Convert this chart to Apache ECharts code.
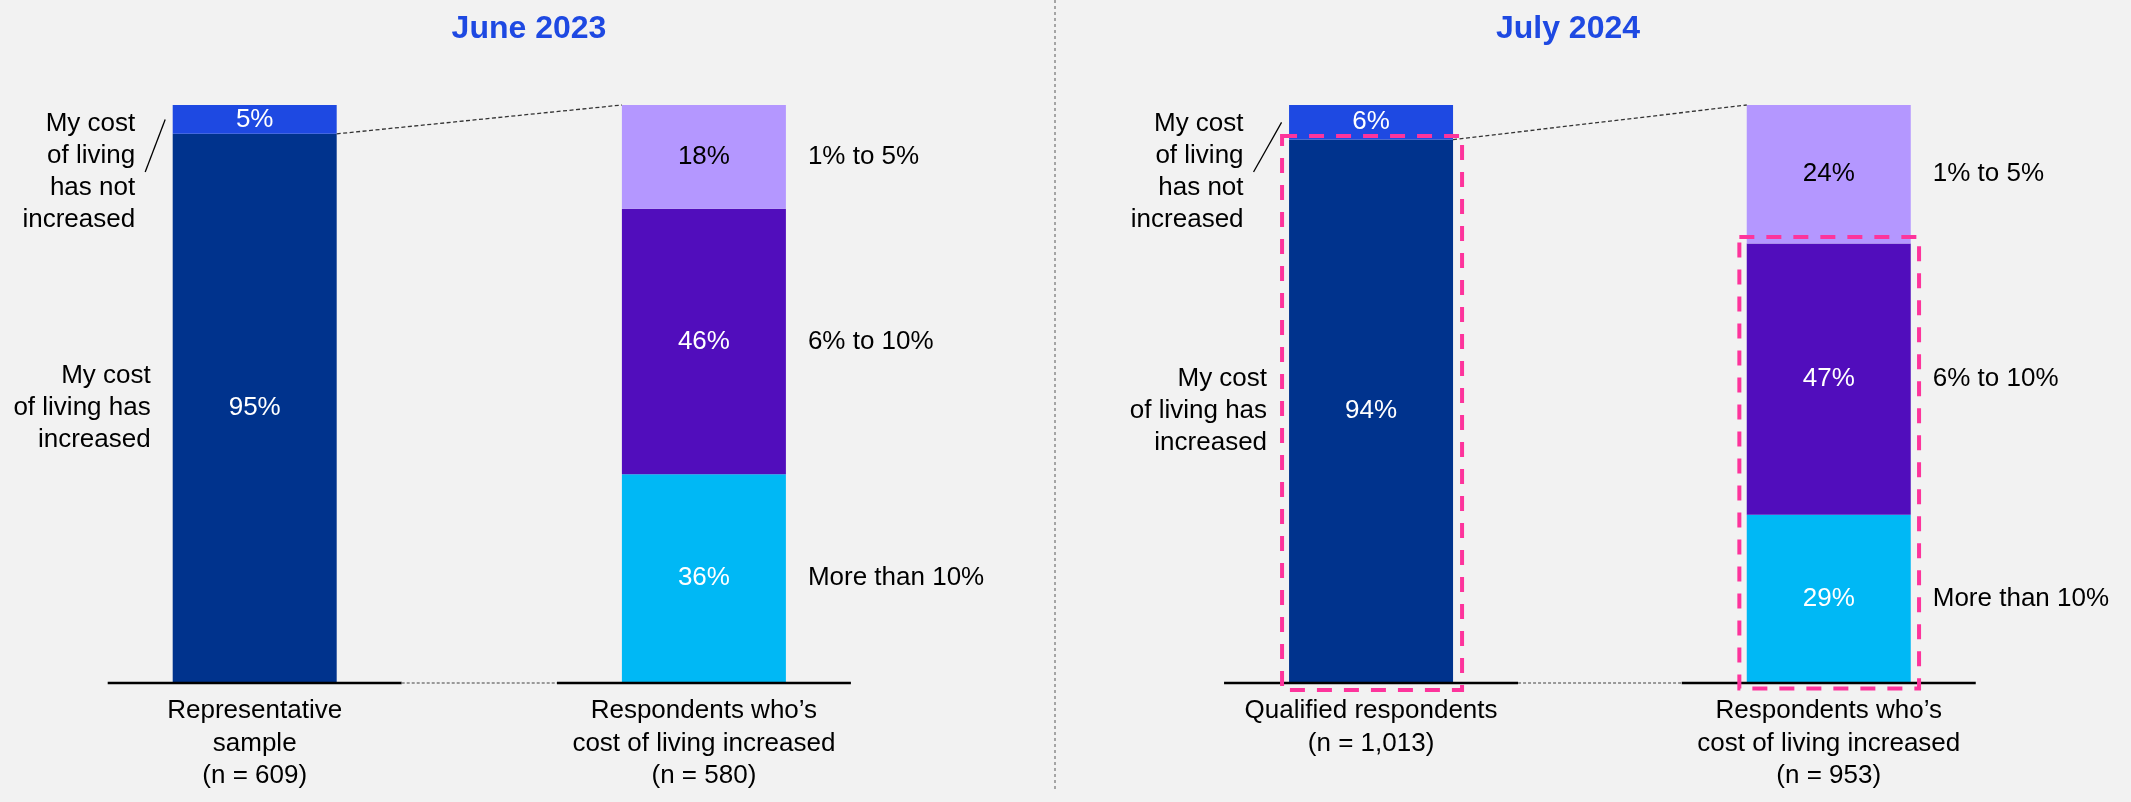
<!DOCTYPE html>
<html>
<head>
<meta charset="utf-8">
<script src="https://cdn.jsdelivr.net/npm/echarts@6/dist/echarts.min.js"></script>
<style>
  html, body { margin: 0; padding: 0; background: #f2f2f2; }
  #chart { width: 2131px; height: 802px; }
</style>
</head>
<body>
<div id="chart"></div>
<script>
// ---- data ----
const panelTitles = ['June 2023', 'July 2024'];

const juneCategories = ['Representative\nsample\n(n = 609)', 'Respondents who\u2019s\ncost of living increased\n(n = 580)'];
const julyCategories = ['Qualified respondents\n(n = 1,013)', 'Respondents who\u2019s\ncost of living increased\n(n = 953)'];

// share of everyone: [cost of living increased, not increased]
const juneCostChange = [95, 5];
const julyCostChange = [94, 6];

// size of the increase, bottom to top: [more than 10%, 6% to 10%, 1% to 5%]
const juneIncreaseSize = [36, 46, 18];
const julyIncreaseSize = [29, 47, 24];

const costChangeLabels = ['My cost\nof living has\nincreased', 'My cost\nof living\nhas not\nincreased'];
const increaseSizeLabels = ['More than 10%', '6% to 10%', '1% to 5%'];

// ---- style ----
const FONT = '"Liberation Sans", Arial, Helvetica, sans-serif';
const BAR_W = 164;
const COLORS = {
  increased: '#00338D',
  notIncreased: '#1E49E2',
  more10: '#00B8F5',
  mid: '#510DBC',
  low: '#B497FF',
  title: '#1E49E2',
  highlight: '#FD349C'
};

const panels = [
  { title: panelTitles[0], titleX: 529, categories: juneCategories, costChange: juneCostChange,
    increaseSize: juneIncreaseSize, grid: { left: 30.1, width: 898.4 }, leaderDx: 20, highlight: false },
  { title: panelTitles[1], titleX: 1568, categories: julyCategories, costChange: julyCostChange,
    increaseSize: julyIncreaseSize, grid: { left: 1142.2, width: 915.4 }, leaderDx: 28, highlight: true }
];

const chart = echarts.init(document.getElementById('chart'), null, { renderer: 'canvas' });

function segment(p, name, data, color, labelColor) {
  return {
    type: 'bar', name, xAxisIndex: p, yAxisIndex: p, stack: 'stack' + p,
    barWidth: BAR_W, data, silent: true,
    itemStyle: { color },
    label: {
      show: true, position: 'inside', formatter: '{c}%',
      color: labelColor, fontSize: 26, fontFamily: FONT, textBorderWidth: 0
    }
  };
}

const grids = [], xAxes = [], yAxes = [], series = [];
panels.forEach((pn, p) => {
  grids.push({ left: pn.grid.left, width: pn.grid.width, top: 105, height: 577 });
  xAxes.push({
    type: 'category', gridIndex: p, data: pn.categories,
    axisLine: { show: false }, axisTick: { show: false },
    axisLabel: { interval: 0, margin: 13, fontSize: 26, lineHeight: 32.5, color: '#000', fontFamily: FONT }
  });
  yAxes.push({ type: 'value', gridIndex: p, min: 0, max: 100, show: false });
  series.push(
    segment(p, 'Increased', [pn.costChange[0], '-'], COLORS.increased, '#fff'),
    segment(p, 'Not increased', [pn.costChange[1], '-'], COLORS.notIncreased, '#fff'),
    segment(p, increaseSizeLabels[0], ['-', pn.increaseSize[0]], COLORS.more10, '#fff'),
    segment(p, increaseSizeLabels[1], ['-', pn.increaseSize[1]], COLORS.mid, '#fff'),
    segment(p, increaseSizeLabels[2], ['-', pn.increaseSize[2]], COLORS.low, '#000')
  );
});

chart.setOption({
  backgroundColor: '#f2f2f2',
  animation: false,
  grid: grids, xAxis: xAxes, yAxis: yAxes, series
});

// ---- annotations placed from the axes' own pixel scale ----
function text(x, y, str, opts) {
  return {
    type: 'text', x, y, z: 100, silent: true,
    style: Object.assign({
      text: str, fill: '#000', fontSize: 26, fontFamily: FONT, lineHeight: 32,
      align: 'left', verticalAlign: 'middle', textAlign: 'left', textVerticalAlign: 'middle'
    }, opts || {})
  };
}
function line(x1, y1, x2, y2, stroke, lineWidth, lineDash) {
  return {
    type: 'line', z: 100, silent: true,
    shape: { x1, y1, x2, y2 },
    style: { stroke, lineWidth, lineDash: lineDash || null, fill: null }
  };
}
function box(x1, y1, x2, y2) {
  return {
    type: 'rect', z: 110, silent: true,
    shape: { x: x1, y: y1, width: x2 - x1, height: y2 - y1 },
    style: { fill: null, stroke: COLORS.highlight, lineWidth: 4, lineDash: [15, 12] }
  };
}

const graphics = [];
const HALF = BAR_W / 2;
const BASE_HALF = 147;

panels.forEach((pn, p) => {
  const px = (ci, v) => chart.convertToPixel({ gridIndex: p }, [ci, v]);
  const [lx, y0] = px(0, 0);
  const rx = px(1, 0)[0];
  const leftTotal = pn.costChange[0] + pn.costChange[1];
  const rightTotal = pn.increaseSize.reduce((a, b) => a + b, 0);
  const yTopL = px(0, leftTotal)[1];
  const yBoundL = px(0, pn.costChange[0])[1];
  const yTopR = px(1, rightTotal)[1];
  const yBoundR = px(1, pn.increaseSize[0] + pn.increaseSize[1])[1];

  // title
  graphics.push(text(pn.titleX, 29, pn.title, {
    fill: COLORS.title, fontSize: 32, fontWeight: 'bold', align: 'center', textAlign: 'center'
  }));

  // baselines under each bar, dotted link between them
  graphics.push(line(lx - BASE_HALF, y0 + 1, lx + BASE_HALF, y0 + 1, '#000', 2.5));
  graphics.push(line(rx - BASE_HALF, y0 + 1, rx + BASE_HALF, y0 + 1, '#000', 2.5));
  graphics.push(line(lx + BASE_HALF, y0 + 1, rx - BASE_HALF, y0 + 1, '#9a9a9a', 2, [3, 2]));

  // connector from the "increased" share to the breakdown bar
  graphics.push(line(lx + HALF, yBoundL, rx - HALF, yTopR, '#333', 1.3, [4, 2.5]));

  // labels to the right of the breakdown bar
  let cum = 0;
  pn.increaseSize.forEach((v, i) => {
    const yMid = px(1, cum + v / 2)[1];
    cum += v;
    graphics.push(text(rx + HALF + 22, yMid, increaseSizeLabels[i]));
  });

  // labels to the left of the first bar
  const yMidInc = px(0, pn.costChange[0] / 2)[1];
  graphics.push(text(lx - HALF - 22, yMidInc, costChangeLabels[0], { align: 'right', textAlign: 'right' }));

  const yMidNot = px(0, pn.costChange[0] + pn.costChange[1] / 2)[1];
  const lead1 = [lx - HALF - 7.5, yMidNot];
  const lead2 = [lead1[0] - pn.leaderDx, yTopL + 67];
  graphics.push(line(lead1[0], lead1[1], lead2[0], lead2[1], '#000', 1.3));
  graphics.push(text(lead2[0] - 10, lead2[1], costChangeLabels[1], { align: 'right', textAlign: 'right' }));

  // highlighted groups
  if (pn.highlight) {
    graphics.push(box(lx - HALF - 7, yBoundL - 3.5, lx + HALF + 9, y0 + 8));
    graphics.push(box(rx - HALF - 7.4, yBoundR - 6.5, rx + HALF + 8.3, y0 + 6.6));
  }
});

// divider between the two periods
graphics.push(line(1055, 0, 1055, 790, '#8c8c8c', 1.5, [3, 3]));

chart.setOption({ graphic: graphics });
</script>
</body>
</html>
